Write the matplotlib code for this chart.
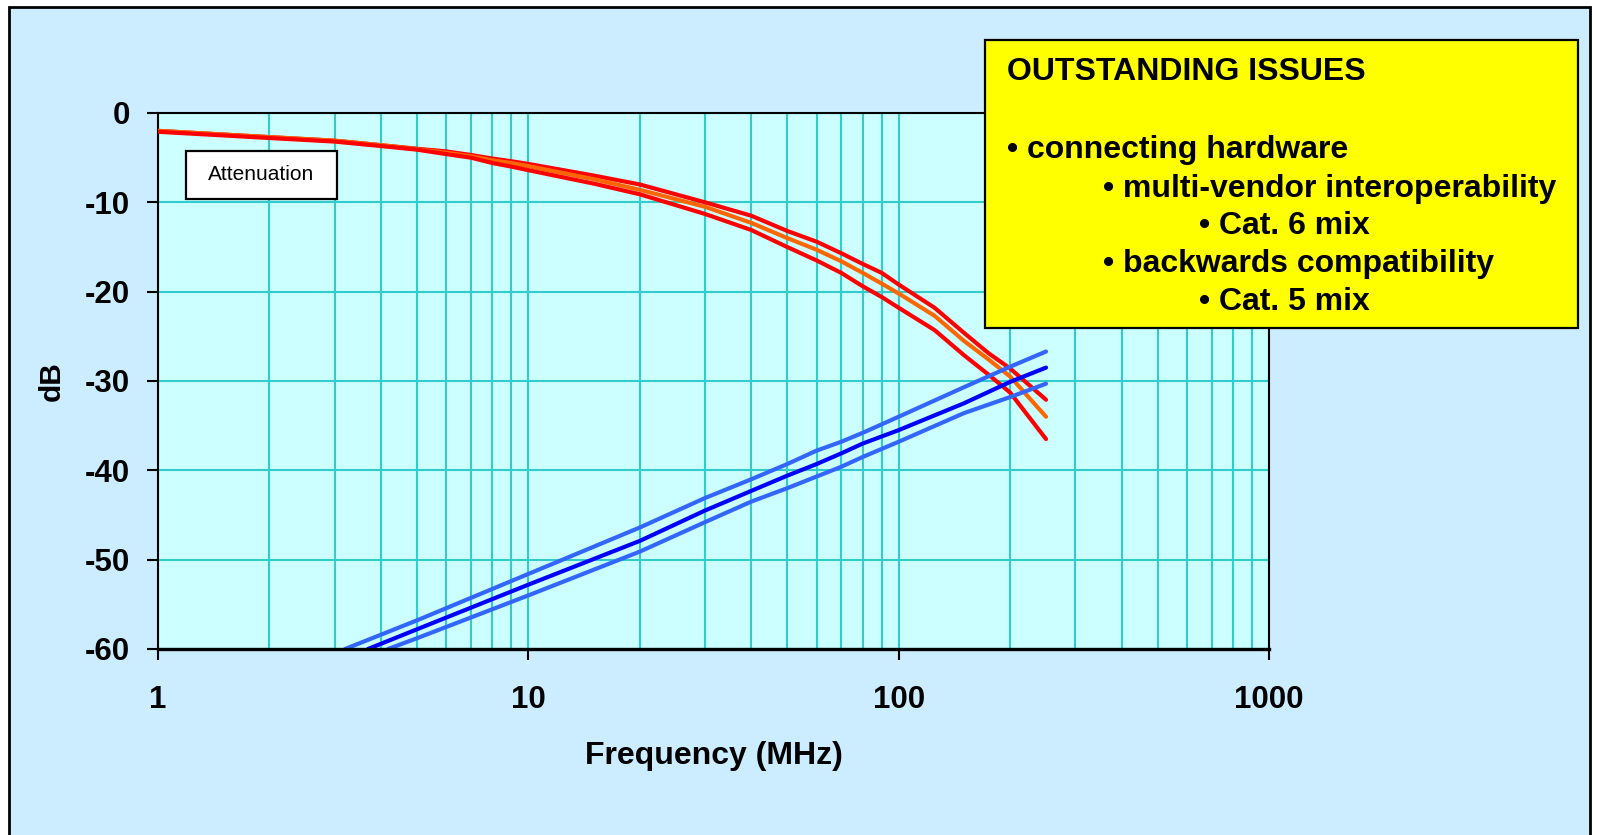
import matplotlib
matplotlib.use("Agg")
import matplotlib.pyplot as plt
from matplotlib.patches import Rectangle
from matplotlib.ticker import FixedLocator, FixedFormatter, LogLocator, NullFormatter

# ---------------- data ----------------
freq_att = [1, 2, 3, 4, 5, 6, 7, 8, 9, 10, 15, 20, 30, 40, 50, 60, 70, 80, 90, 100, 125, 150, 175, 200, 250]
att_upper = [-2.0, -2.7, -3.1, -3.6, -4.0, -4.3, -4.7, -5.1, -5.4, -5.7, -7.0, -8.0, -10.0, -11.5,
             -13.2, -14.4, -15.7, -16.9, -17.9, -19.2, -21.8, -24.6, -26.9, -28.6, -32.1]
att_mid = [-2.0, -2.7, -3.1, -3.6, -4.05, -4.45, -4.85, -5.3, -5.6, -5.95, -7.4, -8.6, -10.5, -12.3,
           -14.0, -15.3, -16.6, -17.9, -19.1, -20.2, -22.7, -25.5, -27.6, -29.5, -34.0]
att_lower = [-2.1, -2.8, -3.2, -3.7, -4.1, -4.6, -5.0, -5.6, -6.0, -6.4, -7.9, -9.1, -11.3, -13.1,
             -15.0, -16.5, -17.9, -19.4, -20.6, -21.8, -24.3, -27.1, -29.3, -31.3, -36.5]

freq_b_upper = [3.2, 5, 10, 20, 30, 40, 50, 60, 70, 80, 100, 150, 200, 250]
b_upper = [-60.0, -56.8, -51.6, -46.4, -43.1, -41.0, -39.3, -37.8, -36.8, -35.8, -34.0, -30.7, -28.4, -26.7]
freq_b_mid = [3.69, 5, 10, 20, 30, 40, 50, 60, 70, 80, 100, 150, 200, 250]
b_mid = [-60.0, -57.8, -52.8, -47.9, -44.5, -42.3, -40.6, -39.3, -38.1, -37.0, -35.5, -32.5, -30.1, -28.5]
freq_b_lower = [4.18, 5, 10, 20, 30, 40, 50, 60, 70, 80, 100, 150, 200, 250]
b_lower = [-60.0, -58.8, -54.0, -49.1, -45.8, -43.5, -42.0, -40.7, -39.6, -38.5, -36.8, -33.6, -31.8, -30.3]

x_ticks = [1, 10, 100, 1000]
x_tick_labels = ["1", "10", "100", "1000"]
y_ticks = [0, -10, -20, -30, -40, -50, -60]
y_tick_labels = ["0", "-10", "-20", "-30", "-40", "-50", "-60"]

box_title = "OUTSTANDING ISSUES"
box_lines = ["\u2022 connecting hardware",
             "\u2022 multi-vendor interoperability",
             "\u2022 Cat. 6 mix",
             "\u2022 backwards compatibility",
             "\u2022 Cat. 5 mix"]

# ---------------- figure ----------------
W, H = 1598, 835
FONT = "Liberation Sans"
fig = plt.figure(figsize=(W / 100, H / 100), dpi=100, facecolor="white")


def fx(px):
    return px / W


def fy(py):
    return 1 - py / H


# outer light-blue frame
bg = Rectangle((fx(9), fy(850)), fx(1590) - fx(9), fy(7) - fy(850), transform=fig.transFigure,
               facecolor="#CCECFF", edgecolor="black", linewidth=2, zorder=-10)
fig.add_artist(bg)

L, R, T, B = 158, 1269, 113, 649
ax = fig.add_axes([fx(L), fy(B), fx(R) - fx(L), fy(T) - fy(B)])
ax.set_facecolor("#CCFFFF")
ax.set_xscale("log")
ax.set_xlim(1, 1000)
ax.set_ylim(-60, 0)

lw = 3.0
ax.plot(freq_att, att_upper, color="#FF0000", lw=lw, zorder=3, solid_capstyle="round", solid_joinstyle="round")
ax.plot(freq_att, att_mid, color="#FF6600", lw=lw, zorder=3, solid_capstyle="round", solid_joinstyle="round")
ax.plot(freq_att, att_lower, color="#FF0000", lw=lw, zorder=3, solid_capstyle="round", solid_joinstyle="round")
ax.plot(freq_b_upper, b_upper, color="#3366FF", lw=lw, zorder=3, solid_capstyle="round", solid_joinstyle="round")
ax.plot(freq_b_mid, b_mid, color="#0000FF", lw=lw, zorder=3, solid_capstyle="round", solid_joinstyle="round")
ax.plot(freq_b_lower, b_lower, color="#3366FF", lw=lw, zorder=3, solid_capstyle="round", solid_joinstyle="round")

ax.xaxis.set_major_locator(FixedLocator(x_ticks))
ax.xaxis.set_major_formatter(FixedFormatter(x_tick_labels))
ax.xaxis.set_minor_locator(LogLocator(base=10, subs=range(2, 10)))
ax.xaxis.set_minor_formatter(NullFormatter())
ax.yaxis.set_major_locator(FixedLocator(y_ticks))
ax.yaxis.set_major_formatter(FixedFormatter(y_tick_labels))

gc = "#33CCCC"
ax.grid(True, which="major", axis="both", color=gc, lw=1.5, zorder=1)
ax.grid(True, which="minor", axis="x", color=gc, lw=1.5, zorder=1)
ax.set_axisbelow(True)

ax.tick_params(axis="x", which="major", direction="out", length=8, width=1.5, pad=18,
               labelsize=22.5, colors="black")
ax.tick_params(axis="x", which="minor", length=0)
ax.tick_params(axis="y", which="major", direction="out", length=8, width=1.5, pad=12,
               labelsize=22.5)
for lab in ax.get_xticklabels() + ax.get_yticklabels():
    lab.set_fontfamily(FONT)
    lab.set_fontweight("bold")

for s in ["left", "top", "right"]:
    ax.spines[s].set_color("black")
    ax.spines[s].set_linewidth(1.5)
ax.spines["bottom"].set_linewidth(2.4)
ax.spines["bottom"].set_zorder(4)

ax.set_xlabel("Frequency (MHz)", fontsize=23, fontweight="bold", family=FONT)
ax.xaxis.label.set_va("baseline")
ax.xaxis.set_label_coords(0.5, (B - 764) / (B - T))
ax.set_ylabel("dB", fontsize=21.5, fontweight="bold", family=FONT)
ax.yaxis.label.set_va("center")
ax.yaxis.label.set_ha("center")
ax.yaxis.set_label_coords((52 - L) / (R - L), 0.5)

# Attenuation label box
att_box = Rectangle((fx(186), fy(199)), fx(337) - fx(186), fy(151) - fy(199), transform=fig.transFigure,
                    facecolor="white", edgecolor="black", linewidth=1.6, zorder=5)
fig.add_artist(att_box)
fig.text(fx(261.5), fy(175), "Attenuation", ha="center", va="center", fontsize=15,
         family=FONT, zorder=6)

# Yellow issues box
ybox = Rectangle((fx(985), fy(328)), fx(1578) - fx(985), fy(40) - fy(328), transform=fig.transFigure,
                 facecolor="#FFFF00", edgecolor="black", linewidth=1.6, zorder=5)
fig.add_artist(ybox)
fig.text(fx(1007), fy(80), box_title, ha="left", va="baseline", fontsize=23, fontweight="bold",
         family=FONT, zorder=6)
line_x = [1007, 1103, 1199, 1103, 1199]
line_y = [157.7, 196.7, 234, 271.7, 310]
for t, xx, yy in zip(box_lines, line_x, line_y):
    fig.text(fx(xx), fy(yy), t, ha="left", va="baseline", fontsize=23, fontweight="bold",
             family=FONT, zorder=6)

fig.savefig("out.png", dpi=100, facecolor="white")
